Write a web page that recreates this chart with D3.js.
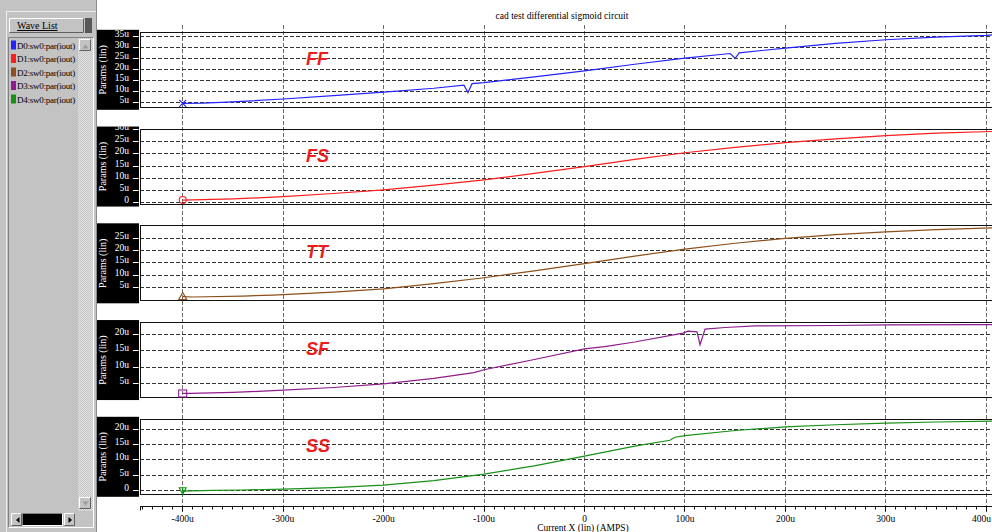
<!DOCTYPE html>
<html><head><meta charset="utf-8">
<script src="https://cdn.jsdelivr.net/npm/d3@7"></script>
<style>html,body{margin:0;padding:0;background:#fff;overflow:hidden}</style>
</head><body>
<svg id="chart" width="992" height="532"></svg>
<script>
// ---- chart text ----
const chartTitle = "cad test differential sigmoid circuit";
const xAxisTitle = "Current X (lin) (AMPS)";
const yAxisTitle = "Params (lin)";
const listTitle = "Wave List";

// ---- categories ----
const waveNames = ["D0:sw0:par(iout)", "D1:sw0:par(iout)", "D2:sw0:par(iout)", "D3:sw0:par(iout)", "D4:sw0:par(iout)"];
const cornerNames = ["FF", "FS", "TT", "SF", "SS"];
const markerShapes = ["cross", "circle", "triangle", "square", "triangleDown"];

// ---- axes (current in uA, params in u) ----
const xTicks = [-400, -300, -200, -100, 0, 100, 200, 300, 400];
const yDomains = [[2.7, 37], [-0.53, 30.2], [-0.33, 30.06], [0.76, 23.5], [-1.31, 23.28]];
const yTicksFF = [5, 10, 15, 20, 25, 30, 35];
const yTicksFS = [0, 5, 10, 15, 20, 25, 30];
const yTicksTT = [5, 10, 15, 20, 25];
const yTicksSF = [5, 10, 15, 20];
const yTicksSS = [0, 5, 10, 15, 20];

// ---- series: [current (u), param (u)] ----
const seriesFF = [[-400, 4.5], [-380, 4.6], [-350, 5.2], [-300, 6.5], [-250, 8.0], [-200, 9.6], [-150, 11.4],
  [-120, 12.8], [-116, 9.4], [-112, 13.5], [-100, 14.0], [-50, 16.6], [0, 19.4], [50, 22.4], [100, 25.2],
  [145, 27.3], [150, 25.1], [154, 27.6], [200, 29.8], [250, 31.9], [300, 33.6], [350, 34.8], [400, 35.6], [406, 35.8]];
const seriesFS = [[-400, 1.1], [-390, 1.2], [-350, 1.6], [-325, 2.0], [-300, 2.5], [-250, 3.8], [-200, 5.3],
  [-150, 7.2], [-100, 9.4], [-50, 12.0], [0, 14.8], [50, 17.8], [100, 20.5], [150, 22.7], [200, 24.6],
  [250, 26.2], [300, 27.5], [350, 28.5], [406, 29.2]];
const seriesTT = [[-400, 1.4], [-390, 1.2], [-340, 1.6], [-310, 2.0], [-300, 2.2], [-250, 3.2], [-200, 4.5],
  [-150, 6.6], [-100, 9.0], [-50, 11.8], [0, 14.7], [50, 17.8], [100, 20.6], [150, 23.0], [200, 25.0],
  [250, 26.5], [300, 27.6], [350, 28.5], [406, 29.2]];
const seriesSF = [[-400, 2.0], [-392, 2.0], [-350, 2.3], [-320, 2.7], [-300, 3.0], [-250, 3.8], [-200, 4.9],
  [-150, 6.6], [-110, 8.3], [-100, 9.2], [-50, 12.3], [0, 15.5], [20, 16.2], [50, 17.6], [98, 20.3],
  [103, 20.9], [112, 20.7], [115, 16.8], [120, 21.5], [140, 22.0], [170, 22.5], [250, 22.6], [300, 22.8], [406, 22.9]];
const seriesSS = [[-400, -0.3], [-392, -0.2], [-370, 0.0], [-340, 0.1], [-300, 0.4], [-250, 0.9], [-200, 1.7],
  [-150, 3.2], [-100, 5.3], [-50, 8.0], [0, 11.2], [50, 14.5], [85, 16.4], [90, 17.4], [100, 17.9],
  [150, 19.6], [200, 20.8], [250, 21.5], [300, 22.0], [350, 22.4], [406, 22.7]];

const allSeries = [seriesFF, seriesFS, seriesTT, seriesSF, seriesSS];
const allYTicks = [yTicksFF, yTicksFS, yTicksTT, yTicksSF, yTicksSS];

// ---- styling ----
const waveColors = ["#2323ff", "#ff1c1c", "#8e4f1a", "#8e1c8e", "#179117"];
const serif = "'Liberation Serif', 'DejaVu Serif', serif";
const W = 992, H = 532;
const plotLeft = 140, plotRight = 995;
const panelTop0 = 32.3, panelStep = 96.75, panelH = 75;
const axisY = 506.5;

const svg = d3.select("#chart");
const defs = svg.append("defs");

const x = d3.scaleLinear().domain([-400, 400]).range([182.7, 986.3]);
const fmtU = d => d === 0 ? "0" : d + "u";
const crisp = v => Math.floor(v) + 0.5;

// title
svg.append("text").attr("x", 562).attr("y", 19).attr("text-anchor", "middle")
  .attr("font-family", serif).attr("font-size", 9.5).attr("fill", "#000").text(chartTitle);

// vertical dashed grid through all panels
svg.append("g").selectAll("line").data(xTicks).join("line")
  .attr("x1", d => crisp(x(d))).attr("x2", d => crisp(x(d)))
  .attr("y1", 25).attr("y2", 512)
  .attr("stroke", "#6a6a6a").attr("stroke-width", 1).attr("stroke-dasharray", "4,2");

// panels
allSeries.forEach((series, i) => {
  const top = panelTop0 + i * panelStep;
  const bottom = top + panelH;
  const y = d3.scaleLinear().domain(yDomains[i]).range([bottom, top]);
  const g = svg.append("g");

  // black label box
  const boxId = "box" + i;
  defs.append("clipPath").attr("id", boxId).append("rect")
    .attr("x", 97).attr("y", top - 2.5).attr("width", 42).attr("height", panelH + 5);
  g.append("rect").attr("x", 97).attr("y", top - 2.5).attr("width", 42).attr("height", panelH + 5).attr("fill", "#000");
  const lab = g.append("g").attr("clip-path", `url(#${boxId})`);
  lab.selectAll("text.tick").data(allYTicks[i]).join("text")
    .attr("class", "tick")
    .attr("x", 129).attr("y", d => y(d) + 0.5).attr("text-anchor", "end")
    .attr("font-family", serif).attr("font-size", 9.5).attr("fill", "#fff").text(fmtU);
  lab.selectAll("line").data(allYTicks[i]).join("line")
    .attr("x1", 133).attr("x2", 138.5).attr("y1", d => crisp(y(d))).attr("y2", d => crisp(y(d)))
    .attr("stroke", "#fff").attr("stroke-width", 1);
  lab.append("text")
    .attr("transform", `translate(106,${(top + bottom) / 2}) rotate(-90)`)
    .attr("text-anchor", "middle").attr("font-family", serif).attr("font-size", 10)
    .attr("fill", "#fff").text(yAxisTitle);

  // horizontal dashed grid
  g.append("g").selectAll("line").data(allYTicks[i]).join("line")
    .attr("x1", plotLeft).attr("x2", W).attr("y1", d => crisp(y(d))).attr("y2", d => crisp(y(d)))
    .attr("stroke", "#333").attr("stroke-width", 1).attr("stroke-dasharray", "4,2");

  // borders
  g.append("line").attr("x1", plotLeft).attr("x2", W).attr("y1", crisp(top)).attr("y2", crisp(top))
    .attr("stroke", "#111").attr("stroke-width", 1);
  g.append("line").attr("x1", plotLeft).attr("x2", W).attr("y1", crisp(bottom)).attr("y2", crisp(bottom))
    .attr("stroke", "#111").attr("stroke-width", 1);
  g.append("line").attr("x1", plotLeft + 0.5).attr("x2", plotLeft + 0.5).attr("y1", crisp(top)).attr("y2", crisp(bottom))
    .attr("stroke", "#111").attr("stroke-width", 1);

  // data line
  const clipId = "plot" + i;
  defs.append("clipPath").attr("id", clipId).append("rect")
    .attr("x", plotLeft).attr("y", top - 1).attr("width", plotRight - plotLeft).attr("height", panelH + 2);
  const line = d3.line().x(d => x(d[0])).y(d => y(d[1]));
  const color = waveColors[i];
  g.append("path").datum(series).attr("clip-path", `url(#${clipId})`)
    .attr("d", line).attr("fill", "none").attr("stroke", color).attr("stroke-width", 1.2);

  // start marker
  const mx = x(series[0][0]), my = y(series[0][1]);
  const m = g.append("g").attr("transform", `translate(${mx},${my})`)
    .attr("fill", "none").attr("stroke", color).attr("stroke-width", 1.1);
  const shape = markerShapes[i];
  if (shape === "cross") {
    m.append("path").attr("d", "M-3.5,-3.5L3.5,3.5M-3.5,3.5L3.5,-3.5");
  } else if (shape === "circle") {
    m.append("circle").attr("r", 3.5);
  } else if (shape === "triangle") {
    m.append("path").attr("d", "M0,-4L4,3L-4,3Z");
  } else if (shape === "square") {
    m.append("rect").attr("x", -4).attr("y", -3.5).attr("width", 8).attr("height", 7);
  } else {
    m.append("path").attr("d", "M-3.5,-3.5L3.5,-3.5L0,3Z M0,-3.5L0,4");
  }

  // corner label
  g.append("text").attr("x", 306).attr("y", (top + bottom) / 2 - 5)
    .attr("font-family", "'Liberation Sans', Arial, sans-serif").attr("font-size", 18)
    .attr("font-weight", "bold").attr("font-style", "italic").attr("fill", "#ee1c1c")
    .text(cornerNames[i]);
});

// x axis
const xa = svg.append("g");
xa.append("line").attr("x1", plotLeft).attr("x2", W).attr("y1", axisY).attr("y2", axisY)
  .attr("stroke", "#111").attr("stroke-width", 1);
const minor = d3.range(-440, 401, 10);
xa.selectAll("line.minor").data(minor).join("line").attr("class", "minor")
  .attr("x1", d => crisp(x(d))).attr("x2", d => crisp(x(d)))
  .attr("y1", axisY).attr("y2", d => axisY + (d % 100 === 0 ? 5 : 3))
  .attr("stroke", "#111").attr("stroke-width", 1);
xa.append("line").attr("x1", plotLeft + 0.5).attr("x2", plotLeft + 0.5).attr("y1", axisY).attr("y2", axisY + 4)
  .attr("stroke", "#111");
const lastTick = xTicks[xTicks.length - 1];
xa.selectAll("text").data(xTicks).join("text")
  .attr("x", d => d === lastTick ? W - 1 : x(d)).attr("y", 522)
  .attr("text-anchor", d => d === lastTick ? "end" : "middle")
  .attr("font-family", serif).attr("font-size", 9.5).attr("fill", "#000").text(fmtU);
svg.append("text").attr("x", 583).attr("y", 530.5).attr("text-anchor", "middle")
  .attr("font-family", serif).attr("font-size", 9.5).attr("fill", "#000").text(xAxisTitle);

// ---- wave list side panel ----
const side = svg.append("g");
side.append("rect").attr("x", 0).attr("y", 0).attr("width", 97).attr("height", H).attr("fill", "#c3c3c3");
side.append("line").attr("x1", 96.5).attr("x2", 96.5).attr("y1", 0).attr("y2", H).attr("stroke", "#8a8a8a");
side.append("line").attr("x1", 6).attr("x2", 96).attr("y1", 11.5).attr("y2", 11.5).attr("stroke", "#eeeeee");
side.append("line").attr("x1", 6.5).attr("x2", 6.5).attr("y1", 11.5).attr("y2", H).attr("stroke", "#eeeeee");

function bevel(g, x0, y0, w, h, raised) {
  const hi = raised ? "#ffffff" : "#808080", lo = raised ? "#606060" : "#ffffff";
  g.append("path").attr("d", `M${x0 + 0.5},${y0 + h - 0.5}V${y0 + 0.5}H${x0 + w - 0.5}`).attr("fill", "none").attr("stroke", hi);
  g.append("path").attr("d", `M${x0 + w - 0.5},${y0 + 0.5}V${y0 + h - 0.5}H${x0 + 0.5}`).attr("fill", "none").attr("stroke", lo);
}

// Wave List button
side.append("rect").attr("x", 9).attr("y", 18).attr("width", 75).attr("height", 15).attr("fill", "#c3c3c3");
bevel(side, 9, 18, 75, 15, true);
side.append("rect").attr("x", 85).attr("y", 18).attr("width", 7).attr("height", 15).attr("fill", "#575757");
side.append("text").attr("x", 17).attr("y", 29).attr("font-family", serif).attr("font-size", 10)
  .attr("text-decoration", "underline").attr("fill", "#000").text(listTitle);

// list box
bevel(side, 8, 37, 86, 491, false);
const pat = defs.append("pattern").attr("id", "dither").attr("width", 2).attr("height", 2).attr("patternUnits", "userSpaceOnUse");
pat.append("rect").attr("width", 2).attr("height", 2).attr("fill", "#e4e4e4");
pat.append("rect").attr("width", 1).attr("height", 1).attr("fill", "#c3c3c3");
pat.append("rect").attr("x", 1).attr("y", 1).attr("width", 1).attr("height", 1).attr("fill", "#c3c3c3");
side.append("rect").attr("x", 78).attr("y", 38).attr("width", 15).attr("height", 473).attr("fill", "url(#dither)");
// vertical scroll buttons
[[79, 39, "M82.5,48.5L85.5,44.5L88.5,48.5Z"], [79, 497, "M82.5,501.5L85.5,505.5L88.5,501.5Z"]].forEach(b => {
  side.append("rect").attr("x", b[0]).attr("y", b[1]).attr("width", 12).attr("height", 12).attr("fill", "#c3c3c3");
  bevel(side, b[0], b[1], 12, 12, true);
  side.append("path").attr("d", b[2]).attr("fill", "#9a9a9a");
});
// horizontal scroll bar
side.append("rect").attr("x", 9).attr("y", 512).attr("width", 83).attr("height", 15).attr("fill", "#c3c3c3");
[[11, 513, "M19.5,517L16,520L19.5,523Z"], [64, 513, "M68.5,517L72,520L68.5,523Z"]].forEach(b => {
  side.append("rect").attr("x", b[0]).attr("y", b[1]).attr("width", 11).attr("height", 13).attr("fill", "#c3c3c3");
  bevel(side, b[0], b[1], 11, 13, true);
  side.append("path").attr("d", b[2]).attr("fill", "#000");
});
side.append("rect").attr("x", 23).attr("y", 514).attr("width", 39).attr("height", 11).attr("fill", "#000");
bevel(side, 22, 513, 41, 13, false);

// list entries
waveNames.forEach((name, i) => {
  const yy = 45 + i * 13.5;
  side.append("rect").attr("x", 11).attr("y", yy - 4.5).attr("width", 5).attr("height", 9).attr("fill", waveColors[i]);
  side.append("text").attr("x", 17).attr("y", yy + 3.5).attr("font-family", serif).attr("font-size", 9)
    .attr("letter-spacing", -0.25).attr("fill", "#000").text(name);
});
</script>
</body></html>
